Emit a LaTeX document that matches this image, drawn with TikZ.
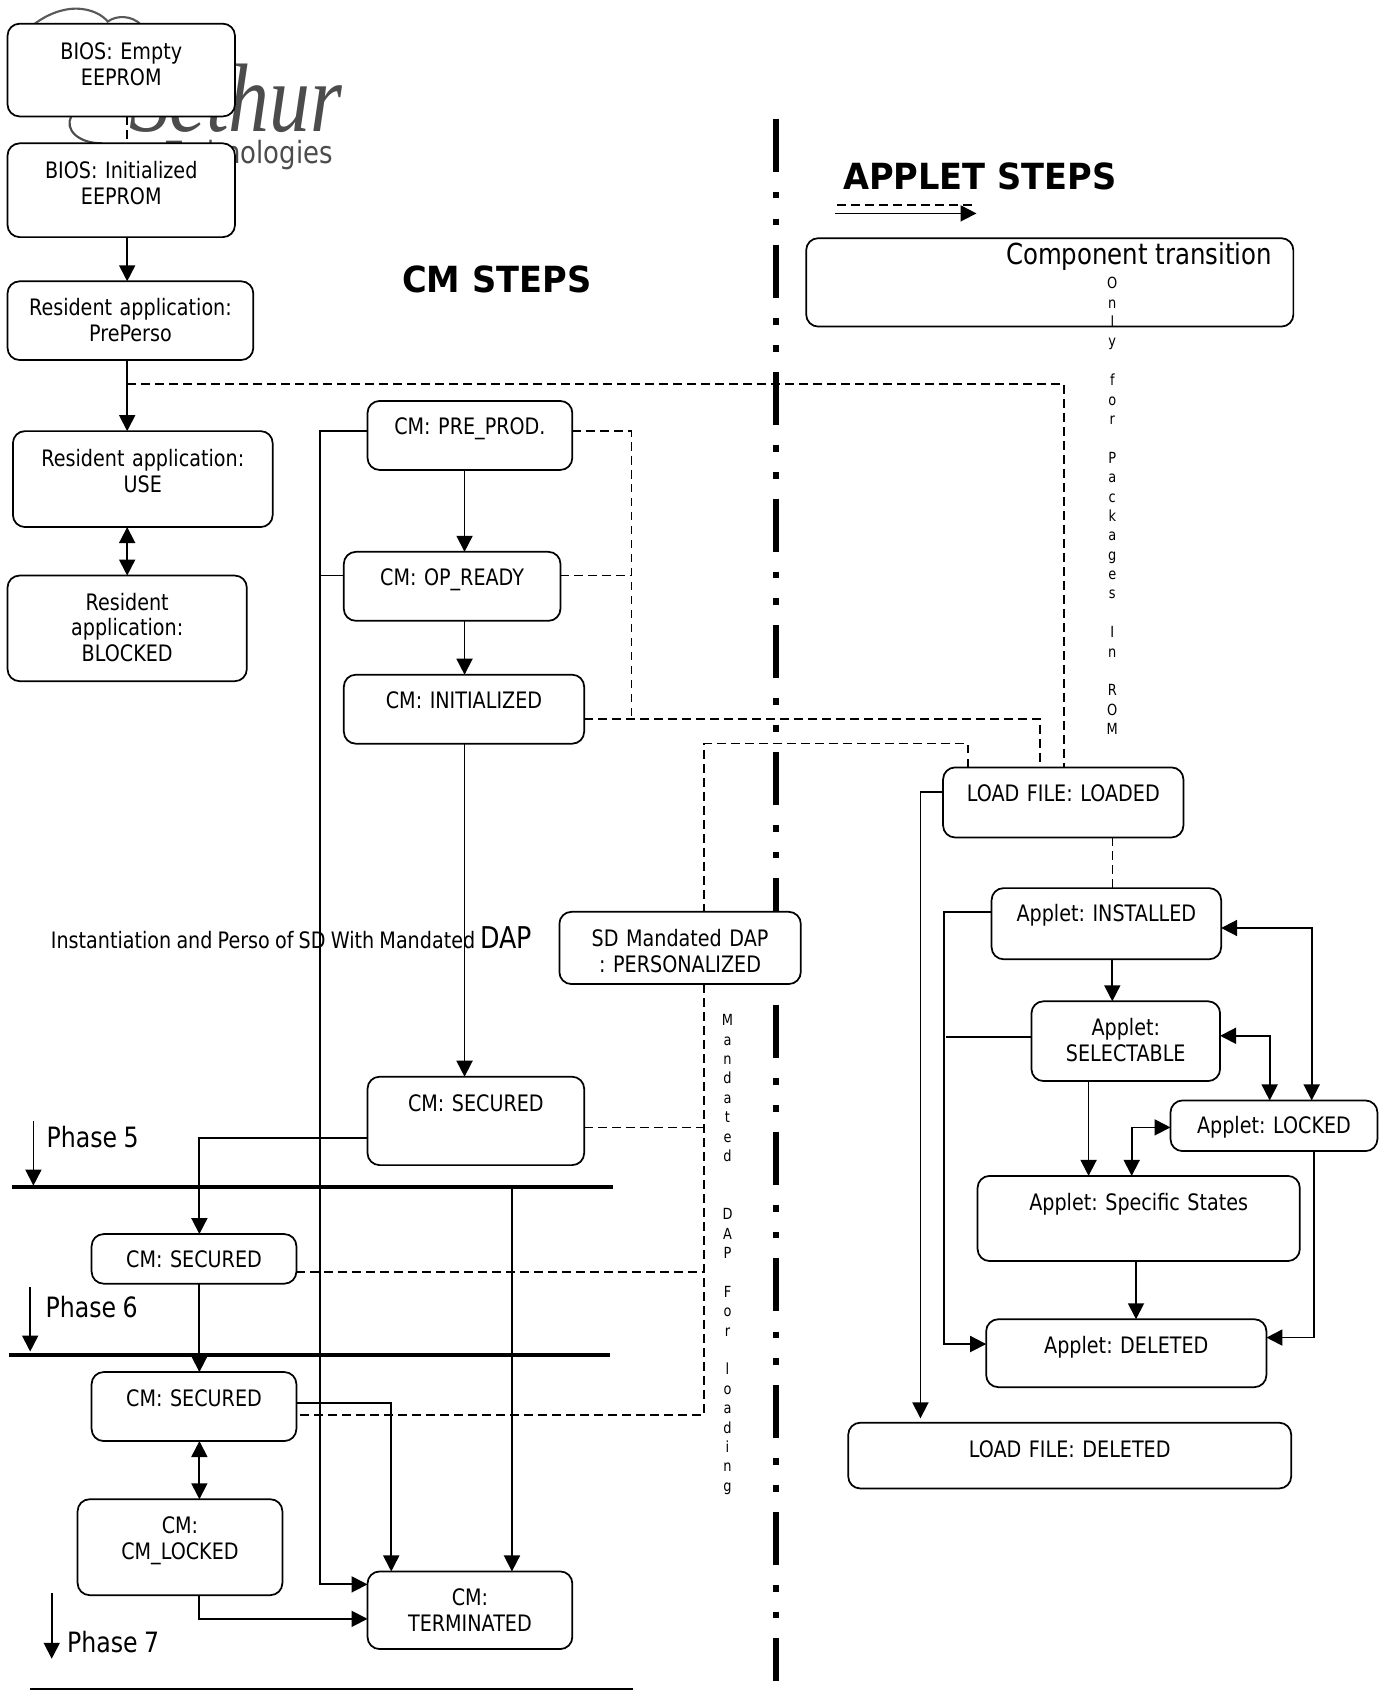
\documentclass[tikz,border=0pt]{standalone}
\usepackage{fontspec}
\setmainfont{DejaVu Sans}[FakeStretch=0.845,WordSpace=0.85]
\newfontfamily\headfont{DejaVu Sans}[FakeStretch=0.935]
\newfontfamily\logofont{Liberation Serif}[FakeStretch=0.84]
\usetikzlibrary{arrows.meta,calc}
\frenchspacing
\def\uu{0.8085}
\newcommand\bx[7]{%
  \pgfmathsetlengthmacro\bw{(#4-#2)*\uu pt}%
  \pgfmathsetlengthmacro\bh{(#5-#3)*\uu pt}%
  \pgfmathsetlengthmacro\bth{(#7-#3)*\uu pt}%
  \pgfmathsetlengthmacro\btd{(#5-#7)*\uu pt}%
  \node[box,minimum width=\bw,minimum height=\bh,text width=\bw,text height=\bth,text depth=\btd] (#1) at (#2,#3) {#6};}
\tikzset{
  box/.style={draw=black,line width=1.3pt,fill=white,rounded corners=9pt,anchor=north west,inner sep=0pt,outer sep=0pt,align=center,font=\fontsize{17}{19.4}\selectfont},
  ln/.style={draw=black,line width=1.35pt},
  arr/.style={ln,-{Triangle[length=12pt,width=12pt]}},
  darr/.style={ln,{Triangle[length=12pt,width=12pt]}-{Triangle[length=12pt,width=12pt]}},
  dsh/.style={draw=black,line width=1.2pt,dash pattern=on 6.5pt off 4pt},
  bar/.style={draw=black,line width=3pt},
  lbl/.style={inner sep=0pt,anchor=base west},
  vert/.style={inner sep=0pt,align=center,anchor=north,font=\fontsize{11.5}{14.55}\selectfont},
  logo/.style={text=black!70,inner sep=0pt,anchor=base east}
}
\begin{document}
\begin{tikzpicture}[x=0.8085pt,y=-0.8085pt]
\useasboundingbox (0,0) rectangle (1283,1568);
% logo behind
\draw[black!65,line width=1.6pt] (31,23) .. controls (45,12) and (60,8) .. (70,8) .. controls (85,8) and (95,14) .. (100,20) .. controls (108,14) and (122,14) .. (131,23);
\draw[black!70,line width=1.6pt] (66,108) .. controls (60,120) and (72,133) .. (95,133);
\node[logo] (logoa) at (318,122) {\fontsize{73}{73}\logofont\itshape Sethur};
\node[logo] (logob) at (309,152) {\fontsize{23}{24}\selectfont Technologies};
% centre line
\draw[line width=5pt,black,dash pattern=on 39.8pt off 15.1pt on 5pt off 15.1pt on 5pt off 15pt] (720,110) coordinate (ca) -- (720,1560) coordinate (cb);
% boxes
\bx{bios}{7}{22}{218}{108}{BIOS: Empty\\EEPROM}{55}
\bx{init}{7}{133}{218}{220}{BIOS: Initialized\\EEPROM}{166}
\bx{pre}{7}{261}{235}{334}{Resident application:\\PrePerso}{293}
\bx{use}{12}{400}{253}{489}{Resident application:\\USE}{433}
\bx{blk}{7}{534}{229}{632}{Resident\\application:\\BLOCKED}{566}
\bx{pp}{341}{372}{531}{436}{CM: PRE\_PROD.}{403}
\bx{op}{319}{512}{520}{576}{CM: OP\_READY}{543}
\bx{ini}{319}{626}{542}{690}{CM: INITIALIZED}{657}
\bx{sa}{341}{999}{542}{1081}{CM: SECURED}{1031}
\bx{sb}{85}{1145}{275}{1191}{CM: SECURED}{1176}
\bx{sc}{85}{1273}{275}{1337}{CM: SECURED}{1305}
\bx{lk}{72}{1391}{262}{1480}{CM:\\CM\_LOCKED}{1423}
\bx{tm}{341}{1458}{531}{1530}{CM:\\TERMINATED}{1490}
\bx{ct}{748}{221}{1200}{303}{\hspace*{134pt}\mbox{\fontsize{21.7}{24}\selectfont Component transition}}{245}
\bx{lf}{875}{712}{1098}{777}{LOAD FILE: LOADED}{744}
\bx{ai}{920}{824}{1133}{890}{Applet: INSTALLED}{855}
\bx{as}{957}{929}{1132}{1003}{Applet:\\SELECTABLE}{961}
\bx{al}{1086}{1021}{1278}{1068}{Applet: LOCKED}{1052}
\bx{ap}{907}{1091}{1206}{1170}{Applet: Specific States}{1123}
\bx{ad}{915}{1224}{1175}{1287}{Applet: DELETED}{1256}
\bx{ld}{787}{1320}{1198}{1381}{LOAD FILE: DELETED}{1352}
% connectors left column
\draw[dsh] (bios.south -| 118,0) -- (init.north -| 118,0);
\draw[arr] (init.south -| 118,0) -- (pre.north -| 118,0);
\draw[arr] (pre.south -| 118,0) -- (use.north -| 118,0);
\draw[darr] (use.south -| 118,0) -- (blk.north -| 118,0);
\draw[dsh] (118,356) -- (987,356) -- (lf.north -| 987,0);
% CM column
\draw[arr] (pp.south -| 431,0) -- (op.north -| 431,0);
\draw[arr] (op.south -| 431,0) -- (ini.north -| 431,0);
\draw[arr] (ini.south -| 431,0) -- (sa.north -| 431,0);
\draw[arr] (pp.west |- 0,400) -- (297,400) -- (297,1470) -- (tm.west |- 0,1470);
\draw[ln] (op.west |- 0,534) -- (297,534);
\draw[dsh] (pp.east |- 0,400) -- (586,400) -- (586,667);
\draw[dsh] (op.east |- 0,534) -- (586,534);
\draw[dsh] (ini.east |- 0,667) -- (965,667) -- (lf.north -| 965,0);
\draw[dsh] (lf.north -| 898,0) -- (898,690) -- (653,690) -- (653,846);
\bx{sd}{519}{846}{743}{913}{SD Mandated DAP\\: PERSONALIZED}{878}
\draw[dsh] (sd.south -| 653,0) -- (653,1313) -- (sc.east |- 0,1313);
\draw[dsh] (sa.east |- 0,1046) -- (653,1046);
\draw[dsh] (sb.east |- 0,1180) -- (653,1180);
\draw[arr] (sa.west |- 0,1056) -- (185,1056) -- (sb.north -| 185,0);
\draw[arr] (sb.south -| 185,0) -- (sc.north -| 185,0);
\draw[darr] (sc.south -| 185,0) -- (lk.north -| 185,0);
\draw[arr] (lk.south -| 185,0) -- (185,1502) -- (tm.west |- 0,1502);
\draw[arr] (sc.east |- 0,1302) -- (363,1302) -- (tm.north -| 363,0);
% bars
\draw[bar] (11,1101) coordinate (ba) -- (569,1101) coordinate (bb);
\draw[bar] (8,1257) coordinate (bc) -- (566,1257) coordinate (bd);
\draw[ln,line width=1pt] (28,1567) coordinate (be) -- (587,1567) coordinate (bf);
\draw[arr] (475,1101) -- (tm.north -| 475,0);
\draw[arr] (31,1040) coordinate (pa) -- (31,1100) coordinate (pb);
\draw[arr] (28,1194) coordinate (pc) -- (28,1254) coordinate (pd);
\draw[arr] (48,1478) coordinate (pe) -- (48,1539) coordinate (pf);
\node[lbl,font=\fontsize{21}{24}\selectfont] (p5) at (43,1065) {Phase 5};
\node[lbl,font=\fontsize{21}{24}\selectfont] (p6) at (42,1222) {Phase 6};
\node[lbl,font=\fontsize{21}{24}\selectfont] (p7) at (62,1533) {Phase 7};
% applet side
\draw[dsh] (lf.south -| 1032,0) -- (ai.north -| 1032,0);
\draw[arr] (ai.south -| 1032,0) -- (as.north -| 1032,0);
\draw[arr] (ai.west |- 0,846) -- (876,846) -- (876,1247) -- (ad.west |- 0,1247);
\draw[ln] (as.west |- 0,962) -- (878,962);
\draw[darr] (ai.east |- 0,861) -- (1217,861) -- (al.north -| 1217,0);
\draw[darr] (as.east |- 0,961) -- (1178,961) -- (al.north -| 1178,0);
\draw[arr] (as.south -| 1010,0) -- (ap.north -| 1010,0);
\draw[darr] (al.west |- 0,1046) -- (1050,1046) -- (ap.north -| 1050,0);
\draw[arr] (ap.south -| 1054,0) -- (ad.north -| 1054,0);
\draw[arr] (al.south -| 1219,0) -- (1219,1241) -- (ad.east |- 0,1241);
\draw[arr] (lf.west |- 0,735) -- (854,735) -- (854,1316) coordinate (lde);
% legend
\draw[dsh] (777,190) coordinate (la) -- (902,190) coordinate (lb);
\draw[arr] (775,198) coordinate (lc) -- (906,198) coordinate (ld);
% headings
\node[lbl,font=\fontsize{27}{30}\headfont\bfseries] (h1) at (782,176) {APPLET STEPS};
\node[lbl,font=\fontsize{27}{30}\headfont\bfseries] (h2) at (373,271) {CM STEPS};
\node[lbl,font=\fontsize{17}{20}\selectfont] (inst) at (47,880) {Instantiation and Perso of SD With Mandated \fontsize{22.5}{24}\selectfont DAP};
% vertical texts
\node[vert] (v1) at (1032,257) {O\\n\\l\\y\\ \\f\\o\\r\\ \\P\\a\\c\\k\\a\\g\\e\\s\\ \\I\\n\\ \\R\\O\\M};
\node[vert] (v2) at (675,941) {M\\a\\n\\d\\a\\t\\e\\d\\ \\ \\D\\A\\P\\ \\F\\o\\r\\ \\l\\o\\a\\d\\i\\n\\g};
\end{tikzpicture}
\end{document}
